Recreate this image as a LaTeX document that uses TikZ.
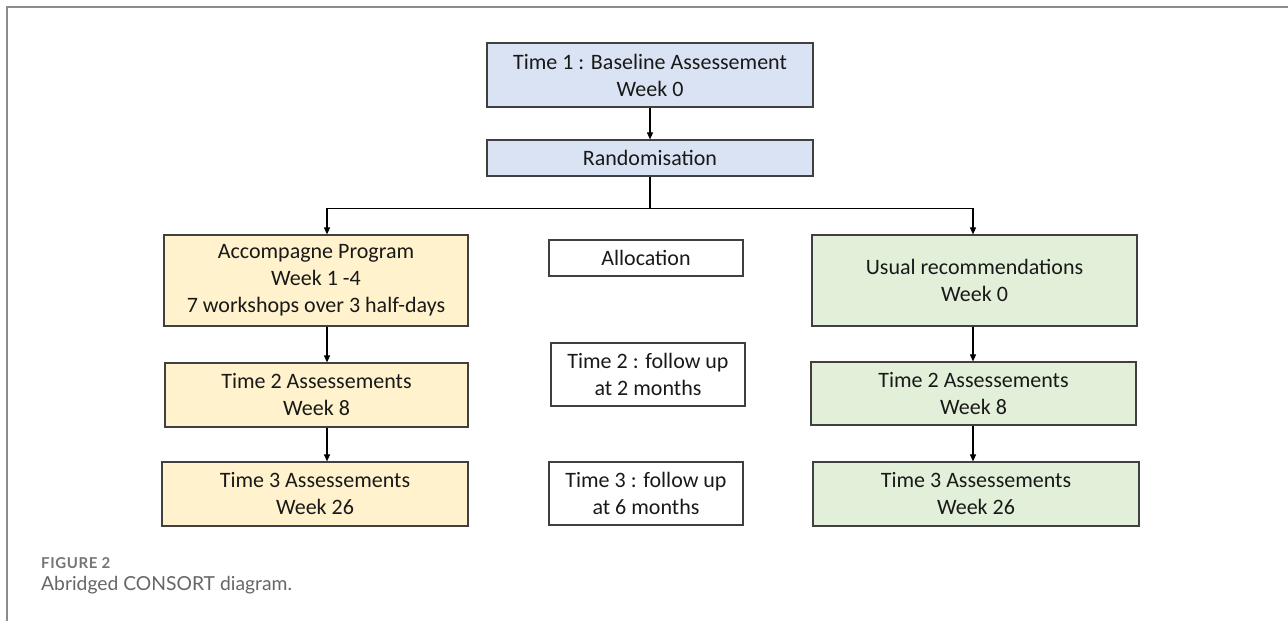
\documentclass[tikz,border=0pt]{standalone}
\usepackage{fontspec}
\setmainfont{Carlito}
\newfontfamily\capfont{Lato}
\newfontfamily\capbold{Lato}[LetterSpace=4]
\usetikzlibrary{arrows.meta,calc}
\definecolor{boxblue}{HTML}{DAE3F3}
\definecolor{boxyellow}{HTML}{FFF2CC}
\definecolor{boxgreen}{HTML}{E2F0D9}
\definecolor{edgegray}{HTML}{404040}
\definecolor{framegray}{HTML}{8C8C8C}
\definecolor{capgray}{HTML}{666666}
\begin{document}
\begin{tikzpicture}[x=1pt, y=-1pt,
    box/.style={draw=edgegray, line width=1.2pt, align=center, inner sep=0pt,
        font=\fontsize{22}{27}\selectfont, text=black!90},
    link/.style={-{Triangle[length=7pt,width=6pt]}, line width=1.1pt}]
            \useasboundingbox (0,0) rectangle (1288,621);
            % Frame
            \draw[framegray, line width=2pt] (7,621) -- (7,7) -- (1288,7);
            % Top boxes
            \node[box, fill=boxblue, minimum width=326pt, minimum height=64pt] (tone) at (650,75)
                {Time 1 : Baseline Assessement\\Week 0};
            \node[box, fill=boxblue, minimum width=326pt, minimum height=36pt] (rand) at (650,158)
                {Randomisation};
            % Left arm
            \node[box, fill=boxyellow, minimum width=304pt, minimum height=91pt] (acc) at (316,280.5)
                {Accompagne Program\\Week 1 -4\\7 workshops over 3 half-days};
            \node[box, fill=boxyellow, minimum width=303pt, minimum height=64pt] (ltwo) at (316.5,395)
                {Time 2 Assessements\\Week 8};
            \node[box, fill=boxyellow, minimum width=306pt, minimum height=64pt] (lthree) at (315,494)
                {Time 3 Assessements\\Week 26};
            % Middle labels
            \node[box, minimum width=194pt, minimum height=36pt] (alloc) at (646,258) {Allocation};
            \node[box, minimum width=194pt, minimum height=63pt] (ftwo) at (648,374.5)
                {Time 2 : follow up\\at 2 months};
            \node[box, minimum width=194pt, minimum height=63pt] (fthree) at (646,493.5)
                {Time 3 : follow up\\at 6 months};
            % Right arm
            \node[box, fill=boxgreen, minimum width=325pt, minimum height=91pt] (usual) at (974.5,280.5)
                {Usual recommendations\\Week 0};
            \node[box, fill=boxgreen, minimum width=325pt, minimum height=63pt] (rtwo) at (973.5,393.5)
                {Time 2 Assessements\\Week 8};
            \node[box, fill=boxgreen, minimum width=326pt, minimum height=64pt] (rthree) at (976,494)
                {Time 3 Assessements\\Week 26};
            % Arrows
            \coordinate (split) at ($(rand.south)+(0,32)$);
            \draw[link] (tone.south) -- (rand.north);
            \draw[line width=1.1pt] (rand.south) -- (split);
            \draw[link] (split) -| ($(acc.north)+(11,0)$);
            \draw[link] (split) -| ($(usual.north)+(-1.5,0)$);
            \draw[link] ($(acc.south)+(11,0)$) -- ($(ltwo.north)+(10.5,0)$);
            \draw[link] ($(ltwo.south)+(10.5,0)$) -- ($(lthree.north)+(12,0)$);
            \draw[link] ($(usual.south)+(-1.5,0)$) -- ($(rtwo.north)+(-0.5,0)$);
            \draw[link] ($(rtwo.south)+(-0.5,0)$) -- ($(rthree.north)+(-3,0)$);
            % Caption
            \node[anchor=base west, inner sep=0pt, text=capgray!90,
                font=\capbold\bfseries\fontsize{15}{17}\selectfont] (fig) at (41,568) {FIGURE 2};
            \node[anchor=base west, inner sep=0pt, text=capgray,
                font=\capfont\fontsize{19.3}{23}\selectfont] (cap) at (41,590) {Abridged CONSORT diagram.};
\end{tikzpicture}
\end{document}
